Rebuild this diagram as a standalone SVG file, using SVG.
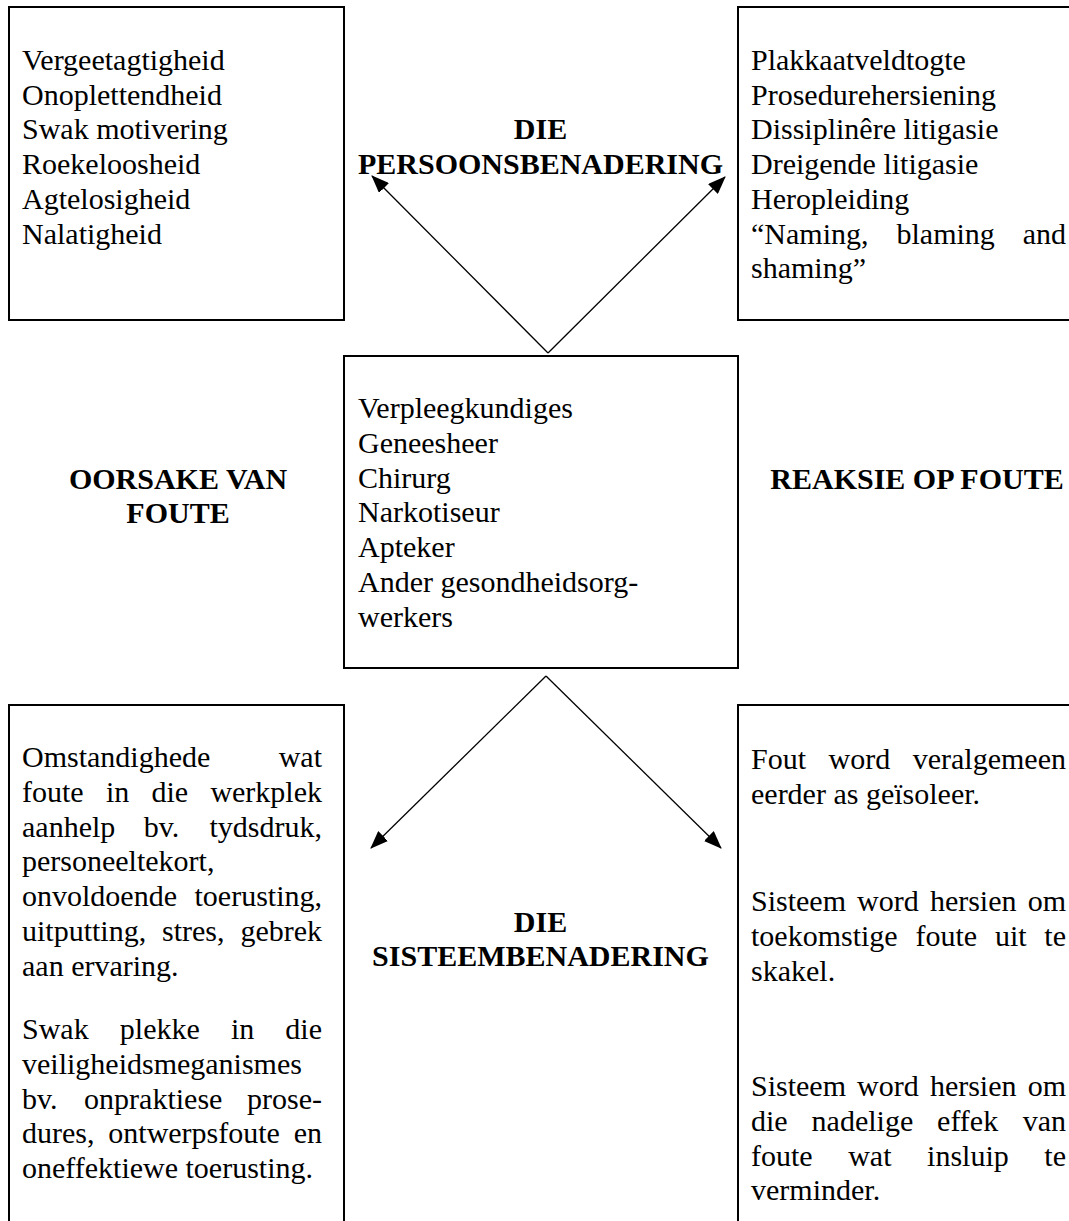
<svg xmlns="http://www.w3.org/2000/svg" width="1069" height="1221" viewBox="0 0 1069 1221">
<style>
.box{fill:none;stroke:#000;stroke-width:2}
.t{font-family:"Liberation Serif","Times New Roman",serif;font-size:30px;fill:#000}
.b{font-weight:bold;text-anchor:middle}
.e{text-anchor:end}
.conn{stroke:#000;stroke-width:1.3;fill:none;marker-end:url(#ah)}
</style>
<defs>
<marker id="ah" markerWidth="18" markerHeight="14" refX="17" refY="7" orient="auto" markerUnits="userSpaceOnUse">
<path d="M0,0 L18,7 L0,14 z" fill="#000"/>
</marker>
</defs>
<rect x="0" y="0" width="1069" height="1221" fill="#fff"/>

<g id="oorsake-persoon">
<rect class="box" x="9" y="7" width="335" height="313"/>
<text class="t" x="22" y="70">Vergeetagtigheid</text>
<text class="t" x="22" y="104.7">Onoplettendheid</text>
<text class="t" x="22" y="139.4">Swak motivering</text>
<text class="t" x="22" y="174.1">Roekeloosheid</text>
<text class="t" x="22" y="208.8">Agtelosigheid</text>
<text class="t" x="22" y="243.5">Nalatigheid</text>
</g>

<g id="reaksie-persoon">
<rect class="box" x="738" y="7" width="400" height="313"/>
<text class="t" x="751" y="70">Plakkaatveldtogte</text>
<text class="t" x="751" y="104.7">Prosedurehersiening</text>
<text class="t" x="751" y="139.4">Dissiplinêre litigasie</text>
<text class="t" x="751" y="174.1">Dreigende litigasie</text>
<text class="t" x="751" y="208.8">Heropleiding</text>
<text class="t" y="243.5"><tspan x="751">“Naming,</tspan><tspan x="896.5">blaming</tspan></text>
<text class="t e" x="1066" y="243.5">and</text>
<text class="t" x="751" y="278.2">shaming”</text>
</g>

<g id="persoonsbenadering">
<text class="t b" x="540.5" y="139">DIE</text>
<text class="t b" x="540.5" y="173.5">PERSOONSBENADERING</text>
</g>

<g id="werkers">
<rect class="box" x="344" y="356" width="394" height="312"/>
<text class="t" x="358" y="418">Verpleegkundiges</text>
<text class="t" x="358" y="452.8">Geneesheer</text>
<text class="t" x="358" y="487.6">Chirurg</text>
<text class="t" x="358" y="522.4">Narkotiseur</text>
<text class="t" x="358" y="557.2">Apteker</text>
<text class="t" x="358" y="592">Ander gesondheidsorg-</text>
<text class="t" x="358" y="626.8">werkers</text>
</g>

<g id="oorsake-label">
<text class="t b" x="178" y="489">OORSAKE VAN</text>
<text class="t b" x="178" y="523">FOUTE</text>
</g>

<g id="reaksie-label">
<text class="t b" x="917" y="489">REAKSIE OP FOUTE</text>
</g>

<g id="sisteembenadering">
<text class="t b" x="540.5" y="932">DIE</text>
<text class="t b" x="540.5" y="966">SISTEEMBENADERING</text>
</g>

<g id="oorsake-sisteem">
<rect class="box" x="9" y="705" width="335" height="600"/>
<text class="t" x="22" y="767">Omstandighede</text>
<text class="t e" x="322" y="767">wat</text>
<text class="t" y="801.8"><tspan x="22">foute</tspan><tspan x="105.9">in</tspan><tspan x="151.4">die</tspan></text>
<text class="t e" x="322" y="801.8">werkplek</text>
<text class="t" y="836.6"><tspan x="22">aanhelp</tspan><tspan x="143.7">bv.</tspan></text>
<text class="t e" x="322" y="836.6">tydsdruk,</text>
<text class="t" x="22" y="871.4">personeeltekort,</text>
<text class="t" x="22" y="906.2">onvoldoende</text>
<text class="t e" x="322" y="906.2">toerusting,</text>
<text class="t" y="941"><tspan x="22">uitputting,</tspan><tspan x="162">stres,</tspan></text>
<text class="t e" x="322" y="941">gebrek</text>
<text class="t" x="22" y="975.8">aan ervaring.</text>
<text class="t" y="1039"><tspan x="22">Swak</tspan><tspan x="119.8">plekke</tspan><tspan x="230.9">in</tspan></text>
<text class="t e" x="322" y="1039">die</text>
<text class="t" x="22" y="1073.8">veiligheidsmeganismes</text>
<text class="t" y="1108.6"><tspan x="22">bv.</tspan><tspan x="84.1">onpraktiese</tspan></text>
<text class="t e" x="322" y="1108.6">prose-</text>
<text class="t" y="1143.4"><tspan x="22">dures,</tspan><tspan x="108.3">ontwerpsfoute</tspan></text>
<text class="t e" x="322" y="1143.4">en</text>
<text class="t" x="22" y="1178.2">oneffektiewe toerusting.</text>
</g>

<g id="reaksie-sisteem">
<rect class="box" x="738" y="705" width="400" height="600"/>
<text class="t" y="769"><tspan x="751">Fout</tspan><tspan x="828.5">word</tspan></text>
<text class="t e" x="1066" y="769">veralgemeen</text>
<text class="t" x="751" y="803.8">eerder as geïsoleer.</text>
<text class="t" y="911"><tspan x="751">Sisteem</tspan><tspan x="857.1">word</tspan><tspan x="929.9">hersien</tspan></text>
<text class="t e" x="1066" y="911">om</text>
<text class="t" y="945.8"><tspan x="751">toekomstige</tspan><tspan x="915.5">foute</tspan><tspan x="994.9">uit</tspan></text>
<text class="t e" x="1066" y="945.8">te</text>
<text class="t" x="751" y="980.6">skakel.</text>
<text class="t" y="1096"><tspan x="751">Sisteem</tspan><tspan x="857.1">word</tspan><tspan x="929.9">hersien</tspan></text>
<text class="t e" x="1066" y="1096">om</text>
<text class="t" y="1130.8"><tspan x="751">die</tspan><tspan x="811.6">nadelige</tspan><tspan x="937.1">effek</tspan></text>
<text class="t e" x="1066" y="1130.8">van</text>
<text class="t" y="1165.6"><tspan x="751">foute</tspan><tspan x="848.2">wat</tspan><tspan x="927.1">insluip</tspan></text>
<text class="t e" x="1066" y="1165.6">te</text>
<text class="t" x="751" y="1200.4">verminder.</text>
</g>

<g id="connectors">
<path class="conn" d="M548,353 L372,176"/>
<path class="conn" d="M548,353 L725,177"/>
<path class="conn" d="M546,676 L371,848"/>
<path class="conn" d="M546,676 L721,848"/>
</g>
</svg>
